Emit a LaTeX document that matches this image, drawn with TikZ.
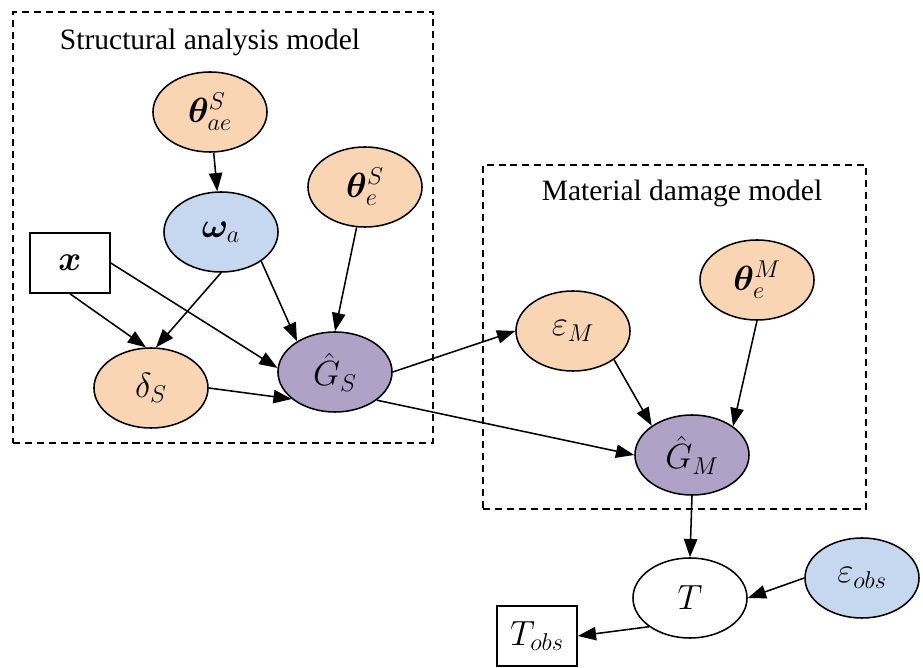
\documentclass[tikz,border=0pt]{standalone}
\usepackage{amsmath,bm}
\usepackage{fontspec}
\setmainfont{Liberation Serif}
\usepackage{tikz}
\usetikzlibrary{arrows.meta,shapes.geometric}
\definecolor{priororange}{HTML}{FAD5B4}
\definecolor{noiseblue}{HTML}{C6D8F0}
\definecolor{modelpurple}{HTML}{B0A1C7}

\begin{document}
\begin{tikzpicture}[x=0.025cm,y=-0.025cm,line width=1.1pt,
  var/.style={ellipse,draw,minimum width=2.85cm,minimum height=2cm,inner sep=0pt,font=\fontsize{24}{28}\selectfont},
  obs/.style={rectangle,draw,minimum width=2cm,minimum height=1.5cm,inner sep=0pt,font=\fontsize{24}{28}\selectfont},
  frame/.style={rectangle,draw,dashed,dash pattern=on 5pt off 3.5pt,inner sep=0pt},
  title/.style={font=\fontsize{21}{25}\selectfont}]
\useasboundingbox (0,0) rectangle (923,668);
\node[frame,minimum width=10.5cm,minimum height=10.775cm] (SAM) at (223,227.5) {};
\node[frame,minimum width=9.575cm,minimum height=8.6cm] (MDM) at (674.5,337) {};
\node[title] (SAMt) at (210,42) {Structural analysis model};
\node[title] (MDMt) at (682,193) {Material damage model};
\node[var,fill=priororange] (thae) at (210,112) {$\bm{\theta}^{S}_{ae}$};
\node[var,fill=priororange] (thse) at (365,187) {$\bm{\theta}^{S}_{e}$};
\node[var,fill=noiseblue] (wa) at (221,232) {$\bm{\omega}_{a}$};
\node[obs] (x) at (70,263) {$\bm{x}$};
\node[var,fill=priororange] (dS) at (151,388) {$\delta_{S}$};
\node[var,fill=modelpurple] (GS) at (335,372) {$\hat{G}_{S}$};
\node[var,fill=priororange] (eM) at (573,331) {$\varepsilon_{M}$};
\node[var,fill=priororange] (thme) at (757,280) {$\bm{\theta}^{M}_{e}$};
\node[var,fill=modelpurple] (GM) at (692,455) {$\hat{G}_{M}$};
\node[var] (T) at (690,598) {$T$};
\node[var,fill=noiseblue] (eobs) at (862,578) {$\varepsilon_{obs}$};
\node[obs] (Tobs) at (537,636) {$T_{obs}$};
\path[-{Triangle[length=13pt,width=9.5pt]}]
(thae) edge (wa)
(wa.south) edge (dS.83)
(wa.-36) edge (GS.141)
(thse) edge (GS.north)
(x.south) edge (dS.97)
(x.east) edge (GS.176)
(dS.east) edge (GS.-148)
(GS.east) edge (eM.west)
(GS.-34) edge (GM.west)
(eM.-35) edge (GM.144)
(thme.south) edge (GM.35)
(GM.south) edge (T.north)
(eobs.west) edge (T.east)
(T.-145) edge (Tobs.east);
\end{tikzpicture}
\end{document}
